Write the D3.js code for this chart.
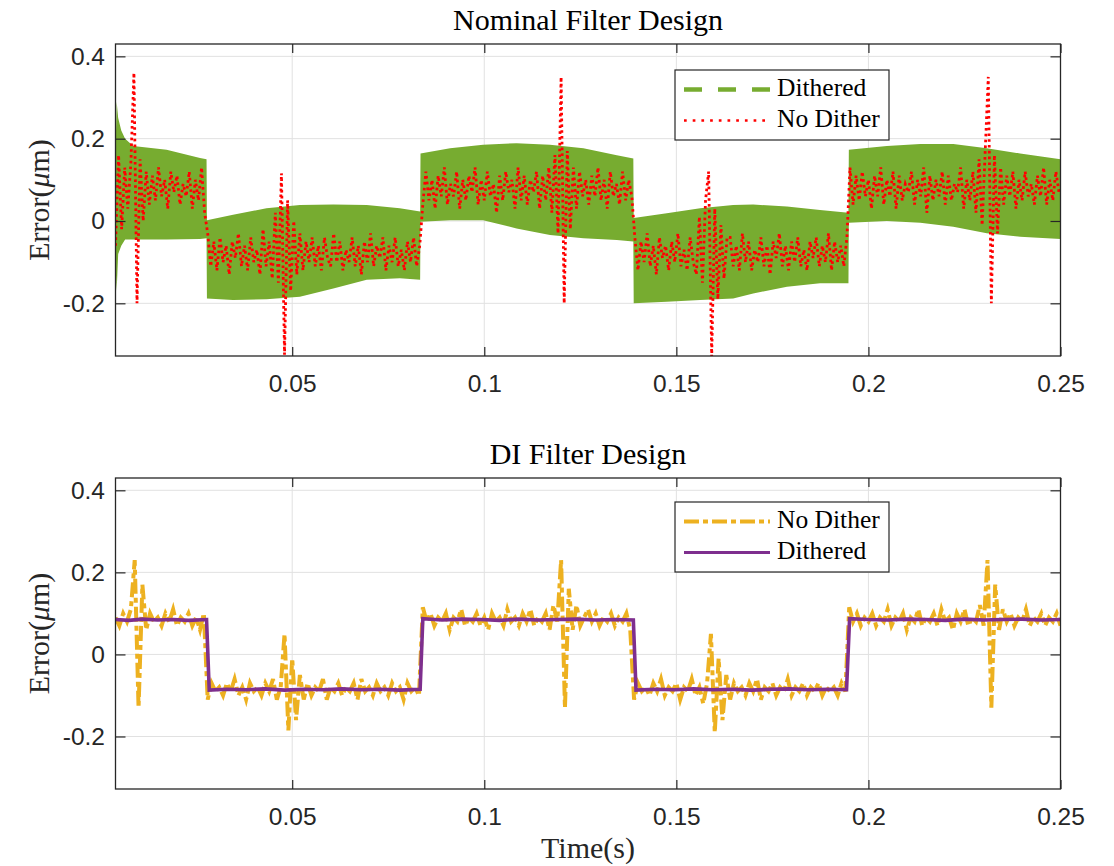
<!DOCTYPE html>
<meta charset="utf-8">
<script src="https://d3js.org/d3.v7.min.js"></script>
<style>
  body { margin: 0; background: #fff; }
</style>
<div id="chart"></div>
<script>

// axis ticks (both panels share them)
var xTicks = [0.05, 0.1, 0.15, 0.2, 0.25];
var xTickLabels = ["0.05", "0.1", "0.15", "0.2", "0.25"];
var yTicks = [-0.2, 0, 0.2, 0.4];
var yTickLabels = ["-0.2", "0", "0.2", "0.4"];

// --- Nominal Filter Design ---
// Dithered: the trace is so dense it reads as a band, kept as upper / lower envelope
var ditherT  = [0.0040, 0.0043, 0.0047, 0.0055, 0.0065, 0.0086, 0.0173, 0.0260, 0.0277,
                0.0278, 0.0346, 0.0433, 0.0520, 0.0607, 0.0694, 0.0780, 0.0833,
                0.0834, 0.0911, 0.0997, 0.1084, 0.1171, 0.1258, 0.1345, 0.1388,
                0.1389, 0.1475, 0.1562, 0.1648, 0.1700, 0.1788, 0.1874, 0.1948,
                0.1949, 0.2048, 0.2135, 0.2221, 0.2308, 0.2395, 0.2500];
var ditherHi = [0.16, 0.29, 0.25, 0.22, 0.20, 0.182, 0.173, 0.153, 0.150,
                0.002, 0.015, 0.031, 0.039, 0.040, 0.039, 0.031, 0.023,
                0.164, 0.177, 0.185, 0.189, 0.185, 0.177, 0.160, 0.152,
                0.007, 0.019, 0.031, 0.039, 0.040, 0.035, 0.027, 0.020,
                0.173, 0.182, 0.187, 0.187, 0.177, 0.164, 0.150];
var ditherLo = [-0.10, -0.17, -0.08, -0.06, -0.045, -0.045, -0.045, -0.044, -0.042,
                -0.188, -0.192, -0.190, -0.184, -0.164, -0.143, -0.139, -0.143,
                -0.002, 0.002, 0.002, -0.018, -0.034, -0.042, -0.046, -0.050,
                -0.200, -0.196, -0.192, -0.188, -0.176, -0.160, -0.151, -0.151,
                -0.004, 0.000, -0.004, -0.014, -0.030, -0.038, -0.044];

// No Dither: one sample every 0.8 ms starting at 4 ms
var noDitherStart = 0.004, noDitherStep = 0.0008;
var noDither = [
  -0.06, 0.16, -0.02, 0.13, 0.03, 0.14, 0.36, -0.20, 0.15, 0.00,
  0.12, 0.04, 0.11, 0.05, 0.13, 0.06, 0.10, 0.03, 0.12, 0.07,
  0.11, 0.04, 0.09, 0.06, 0.12, 0.03, 0.10, 0.05, 0.13, 0.02,
  -0.03, -0.11, -0.05, -0.12, -0.04, -0.10, -0.06, -0.13, -0.05, -0.09,
  -0.03, -0.11, -0.06, -0.12, -0.04, -0.10, -0.07, -0.13, -0.02, -0.11,
  -0.05, -0.14, 0.02, -0.15, 0.116, -0.325, 0.05, -0.17, 0.00, -0.13,
  -0.03, -0.12, -0.05, -0.10, -0.04, -0.11, -0.06, -0.12, -0.04, -0.09,
  -0.11, -0.03, -0.10, -0.05, -0.12, -0.07, -0.10, -0.04, -0.11, -0.06,
  -0.13, -0.05, -0.10, -0.03, -0.11, -0.06, -0.09, -0.04, -0.12, -0.06,
  -0.10, -0.04, -0.11, -0.07, -0.12, -0.05, -0.10, -0.04, -0.11, -0.06,
  0.04, 0.12, 0.05, 0.10, 0.03, 0.11, 0.06, 0.13, 0.04, 0.09,
  0.06, 0.12, 0.03, 0.10, 0.05, 0.11, 0.07, 0.13, 0.04, 0.10,
  0.05, 0.12, 0.06, 0.09, 0.02, 0.11, 0.05, 0.12, 0.07, 0.10,
  0.03, 0.13, 0.05, 0.11, 0.04, 0.10, 0.07, 0.12, 0.03, 0.11,
  0.05, 0.13, 0.02, 0.16, -0.03, 0.35, -0.20, 0.17, -0.02, 0.13,
  0.03, 0.12, 0.06, 0.10, 0.04, 0.11, 0.06, 0.13, 0.05, 0.10,
  0.03, 0.12, 0.06, 0.09, 0.04, 0.12, 0.05, 0.10, 0.06, -0.04,
  -0.12, -0.05, -0.10, -0.03, -0.11, -0.06, -0.13, -0.04, -0.09, -0.06,
  -0.12, -0.05, -0.10, -0.03, -0.11, -0.07, -0.12, -0.04, -0.10, -0.13,
  0.01, -0.15, 0.05, 0.12, -0.33, 0.03, -0.19, -0.01, -0.14, -0.04,
  -0.04, -0.11, -0.06, -0.12, -0.03, -0.10, -0.05, -0.12, -0.07, -0.10,
  -0.04, -0.11, -0.06, -0.13, -0.05, -0.09, -0.03, -0.11, -0.06, -0.12,
  -0.05, -0.10, -0.04, -0.11, -0.07, -0.12, -0.05, -0.09, -0.04, -0.11,
  -0.06, -0.10, -0.03, -0.12, -0.05, -0.10, -0.06, -0.11, -0.04, 0.13,
  0.04, 0.11, 0.05, 0.12, 0.06, 0.10, 0.03, 0.11, 0.06, 0.13,
  0.04, 0.10, 0.06, 0.12, 0.03, 0.11, 0.05, 0.09, 0.07, 0.12,
  0.04, 0.10, 0.06, 0.13, 0.02, 0.11, 0.05, 0.10, 0.06, 0.12,
  0.04, 0.11, 0.05, 0.09, 0.07, 0.13, 0.03, 0.10, 0.05, 0.12,
  0.02, 0.15, -0.01, 0.17, 0.35, -0.20, 0.16, -0.03, 0.13, 0.04,
  0.11, 0.06, 0.12, 0.03, 0.10, 0.05, 0.12, 0.06, 0.09, 0.04,
  0.11, 0.06, 0.13, 0.04, 0.10, 0.05, 0.12, 0.07
];

// --- DI Filter Design ---
// No Dither: one sample every 1 ms starting at 4 ms
var diNoDitherStart = 0.004, diNoDitherStep = 0.001;
var diNoDither = [
  0.09, 0.07, 0.10, 0.08, 0.11, 0.23, -0.13, 0.17, 0.06, 0.10,
  0.08, 0.09, 0.07, 0.10, 0.08, 0.11, 0.07, 0.09, 0.08, 0.10,
  0.07, 0.09, 0.06, 0.10, -0.11, -0.07, -0.09, -0.08, -0.10, -0.07,
  -0.09, -0.06, -0.10, -0.08, -0.11, -0.07, -0.09, -0.08, -0.10, -0.07,
  -0.09, -0.06, -0.11, -0.08, 0.05, -0.185, -0.01, -0.16, -0.05, -0.11,
  -0.07, -0.10, -0.08, -0.09, -0.06, -0.11, -0.08, -0.09, -0.07, -0.10,
  -0.08, -0.09, -0.07, -0.11, -0.06, -0.09, -0.08, -0.10, -0.07, -0.09,
  -0.08, -0.10, -0.07, -0.09, -0.08, -0.11, -0.07, -0.09, -0.08, -0.10,
  0.115, 0.08, 0.10, 0.07, 0.09, 0.08, 0.10, 0.06, 0.09, 0.08,
  0.11, 0.07, 0.09, 0.08, 0.10, 0.07, 0.09, 0.06, 0.10, 0.08,
  0.09, 0.07, 0.11, 0.08, 0.09, 0.07, 0.10, 0.08, 0.11, 0.07,
  0.09, 0.08, 0.10, 0.06, 0.12, 0.08, 0.23, -0.13, 0.16, 0.06,
  0.12, 0.07, 0.09, 0.11, 0.08, 0.10, 0.07, 0.09, 0.08, 0.10,
  0.07, 0.09, 0.08, 0.10, 0.06, -0.11, -0.07, -0.09, -0.08, -0.10,
  -0.07, -0.09, -0.06, -0.10, -0.08, -0.09, -0.07, -0.11, -0.08, -0.09,
  -0.06, -0.10, -0.08, -0.12, -0.07, 0.05, -0.19, -0.01, -0.16, -0.05,
  -0.11, -0.07, -0.09, -0.08, -0.10, -0.07, -0.09, -0.06, -0.11, -0.08,
  -0.09, -0.07, -0.10, -0.08, -0.09, -0.06, -0.10, -0.08, -0.09, -0.07,
  -0.10, -0.08, -0.09, -0.07, -0.10, -0.08, -0.09, -0.08, -0.10, -0.07,
  -0.09, 0.115, 0.08, 0.10, 0.07, 0.09, 0.08, 0.10, 0.07, 0.09,
  0.08, 0.11, 0.07, 0.09, 0.08, 0.10, 0.06, 0.09, 0.08, 0.11,
  0.07, 0.09, 0.08, 0.10, 0.07, 0.11, 0.08, 0.09, 0.06, 0.10,
  0.08, 0.11, 0.07, 0.09, 0.08, 0.12, 0.07, 0.23, -0.13, 0.17,
  0.06, 0.11, 0.08, 0.10, 0.07, 0.09, 0.08, 0.11, 0.07, 0.09,
  0.08, 0.10, 0.07, 0.09, 0.08, 0.10, 0.07
];

// Dithered: almost a clean square wave
var diDitherT = [0.0040, 0.0075, 0.0110, 0.0150, 0.0190, 0.0230, 0.0277,
                 0.0284, 0.0330, 0.0380, 0.0430, 0.0480, 0.0530, 0.0580, 0.0630, 0.0680, 0.0730, 0.0780, 0.0833,
                 0.0840, 0.0890, 0.0940, 0.0990, 0.1040, 0.1090, 0.1140, 0.1190, 0.1240, 0.1290, 0.1340, 0.1388,
                 0.1395, 0.1445, 0.1495, 0.1545, 0.1595, 0.1645, 0.1695, 0.1745, 0.1795, 0.1845, 0.1895, 0.1943,
                 0.1951, 0.2000, 0.2050, 0.2100, 0.2150, 0.2200, 0.2250, 0.2300, 0.2350, 0.2400, 0.2450, 0.2500];
var diDither = [0.085, 0.083, 0.086, 0.084, 0.085, 0.083, 0.085,
                -0.087, -0.085, -0.086, -0.084, -0.087, -0.085, -0.086, -0.084, -0.086, -0.085, -0.087, -0.085,
                0.087, 0.084, 0.086, 0.085, 0.083, 0.086, 0.084, 0.085, 0.086, 0.084, 0.085, 0.084,
                -0.087, -0.085, -0.086, -0.084, -0.086, -0.085, -0.087, -0.085, -0.084, -0.086, -0.085, -0.086,
                0.087, 0.085, 0.084, 0.086, 0.085, 0.083, 0.086, 0.084, 0.085, 0.086, 0.084, 0.085];

// colours (MATLAB default palette)
var green = "#77AC30", red = "#FF0000", yellow = "#EDB120", purple = "#7E2F8E";
var axisColor = "#262626";

var width = 1114, height = 866;
var left = 115.5, right = 1060.5;

var svg = d3.select("#chart")
  .append("svg")
    .attr("width", width)
    .attr("height", height);

var x = d3.scaleLinear().domain([0.004, 0.25]).range([left, right]);

function sampled(start, step, values) {
  return values.map(function(v, i) { return {t: start + i * step, v: v}; });
}

// draws the frame, grid, ticks and labels of one panel, returns its y scale and data layer
function makePanel(id, top, bottom, title) {
  var y = d3.scaleLinear().domain([-0.328, 0.43]).range([bottom, top]);
  var g = svg.append("g");

  // grid
  g.append("g").selectAll("line").data(xTicks).join("line")
    .attr("x1", function(d) { return x(d); }).attr("x2", function(d) { return x(d); })
    .attr("y1", top).attr("y2", bottom)
    .attr("stroke", "#e1e1e1").attr("stroke-width", 1);
  g.append("g").selectAll("line").data(yTicks).join("line")
    .attr("x1", left).attr("x2", right)
    .attr("y1", function(d) { return y(d); }).attr("y2", function(d) { return y(d); })
    .attr("stroke", "#e1e1e1").attr("stroke-width", 1);

  svg.append("clipPath").attr("id", id)
    .append("rect").attr("x", left).attr("y", top).attr("width", right - left).attr("height", bottom - top);
  var layer = svg.append("g").attr("clip-path", "url(#" + id + ")");

  var axes = svg.append("g");
  axes.append("g").attr("transform", "translate(0," + bottom + ")")
    .call(d3.axisBottom(x).tickValues(xTicks).tickSize(-9).tickPadding(19)
      .tickFormat(function(d, i) { return xTickLabels[i]; }));
  axes.append("g").attr("transform", "translate(0," + top + ")")
    .call(d3.axisTop(x).tickValues(xTicks).tickSize(-9).tickFormat(""));
  axes.append("g").attr("transform", "translate(" + left + ",0)")
    .call(d3.axisLeft(y).tickValues(yTicks).tickSize(-10).tickPadding(10.5)
      .tickFormat(function(d, i) { return yTickLabels[i]; }));
  axes.append("g").attr("transform", "translate(" + right + ",0)")
    .call(d3.axisRight(y).tickValues(yTicks).tickSize(-10).tickFormat(""));
  axes.selectAll(".domain").remove();
  axes.selectAll(".tick line").attr("stroke", axisColor).attr("stroke-width", 1.2);
  axes.selectAll(".tick text")
    .attr("fill", axisColor)
    .style("font-family", "'Liberation Sans', Arial, sans-serif")
    .style("font-size", "24.5px");

  axes.append("rect")
    .attr("x", left).attr("y", top).attr("width", right - left).attr("height", bottom - top)
    .attr("fill", "none").attr("stroke", axisColor).attr("stroke-width", 1.3);

  svg.append("text")
    .attr("x", (left + right) / 2).attr("y", top - 14)
    .attr("text-anchor", "middle")
    .style("font-family", "'Liberation Serif', 'Times New Roman', serif")
    .style("font-size", "30px")
    .attr("fill", "#000")
    .text(title);

  var ylab = svg.append("text")
    .attr("transform", "translate(49," + ((top + bottom) / 2) + ") rotate(-90)")
    .attr("text-anchor", "middle")
    .style("font-family", "'Liberation Serif', 'Times New Roman', serif")
    .style("font-size", "30px")
    .attr("fill", axisColor);
  ylab.append("tspan").text("Error(");
  ylab.append("tspan").style("font-style", "italic").text("\u03bc");
  ylab.append("tspan").text("m)");

  return {y: y, layer: layer};
}

function legend(top, items) {
  var g = svg.append("g");
  g.append("rect")
    .attr("x", 675).attr("y", top).attr("width", 214).attr("height", 70)
    .attr("fill", "#fff").attr("stroke", axisColor).attr("stroke-width", 1.2);
  items.forEach(function(it, i) {
    var cy = top + 19.5 + i * 31;
    g.append("line")
      .attr("x1", 684).attr("x2", 770).attr("y1", cy).attr("y2", cy)
      .attr("stroke", it.color).attr("stroke-width", it.width)
      .attr("stroke-dasharray", it.dash);
    g.append("text")
      .attr("x", 777).attr("y", cy + 6)
      .style("font-family", "'Liberation Serif', 'Times New Roman', serif")
      .style("font-size", "25.5px")
      .attr("fill", "#000")
      .text(it.label);
  });
}

// ---- top panel ----
var p1 = makePanel("clipTop", 44, 356, "Nominal Filter Design");

var band = ditherT.map(function(t, i) { return {t: t, hi: ditherHi[i], lo: ditherLo[i]}; });
p1.layer.append("path")
  .datum(band)
  .attr("fill", green)
  .attr("d", d3.area()
    .x(function(d) { return x(d.t); })
    .y0(function(d) { return p1.y(d.lo); })
    .y1(function(d) { return p1.y(d.hi); }));

// the dense trace packs its dots closer than the legend sample shows
p1.layer.append("path")
  .datum(sampled(noDitherStart, noDitherStep, noDither))
  .attr("fill", "none")
  .attr("stroke", red)
  .attr("stroke-width", 2.8)
  .attr("stroke-dasharray", "2.6,3.2")
  .attr("d", d3.line()
    .x(function(d) { return x(d.t); })
    .y(function(d) { return p1.y(d.v); }));

legend(70, [
  {label: "Dithered", color: green, width: 4.5, dash: "18,16"},
  {label: "No Dither", color: red, width: 2.7, dash: "2.7,6"}
]);

// ---- bottom panel ----
var p2 = makePanel("clipBottom", 478, 789, "DI Filter Design");

p2.layer.append("path")
  .datum(sampled(diNoDitherStart, diNoDitherStep, diNoDither))
  .attr("fill", "none")
  .attr("stroke", yellow)
  .attr("stroke-width", 4)
  .attr("stroke-dasharray", "15,4,5,4")
  .attr("d", d3.line()
    .x(function(d) { return x(d.t); })
    .y(function(d) { return p2.y(d.v); }));

p2.layer.append("path")
  .datum(diDitherT.map(function(t, i) { return {t: t, v: diDither[i]}; }))
  .attr("fill", "none")
  .attr("stroke", purple)
  .attr("stroke-width", 3.6)
  .attr("d", d3.line()
    .x(function(d) { return x(d.t); })
    .y(function(d) { return p2.y(d.v); }));

legend(502, [
  {label: "No Dither", color: yellow, width: 4, dash: "15,4,5,4"},
  {label: "Dithered", color: purple, width: 3, dash: null}
]);

// x label
svg.append("text")
  .attr("x", (left + right) / 2).attr("y", 858)
  .attr("text-anchor", "middle")
  .style("font-family", "'Liberation Serif', 'Times New Roman', serif")
  .style("font-size", "30px")
  .attr("fill", axisColor)
  .text("Time(s)");

</script>
